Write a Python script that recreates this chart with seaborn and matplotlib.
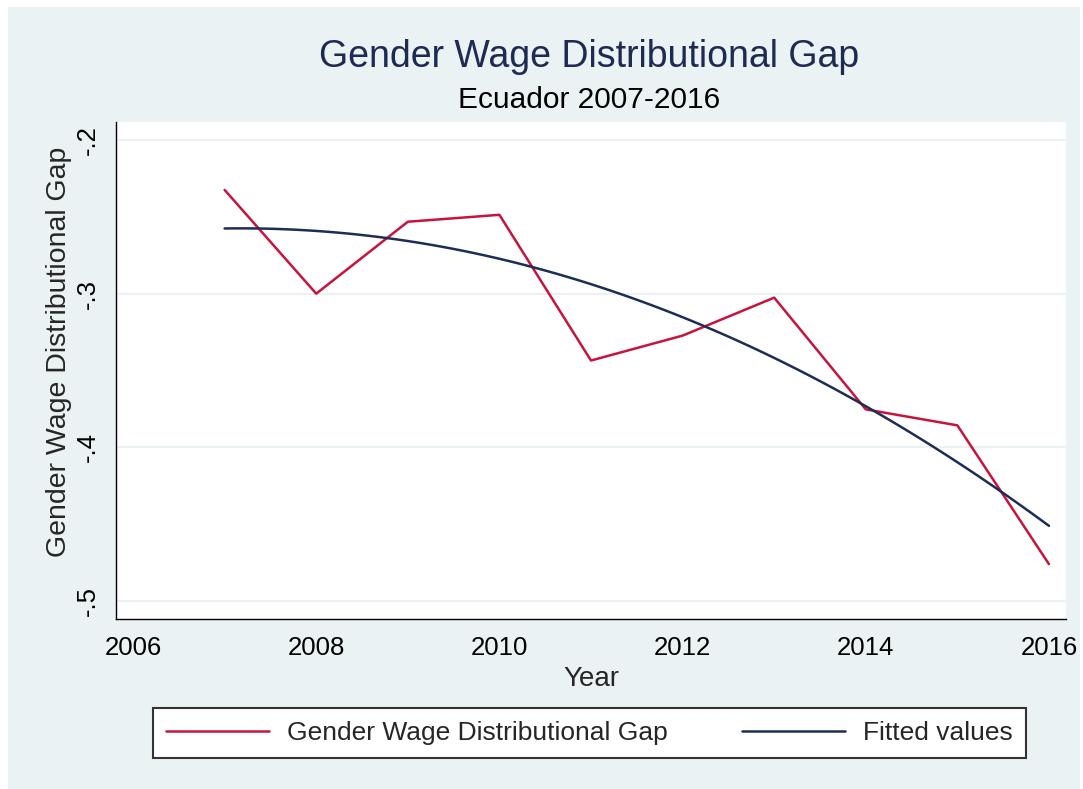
from matplotlib import pyplot as plt
from matplotlib.patches import Rectangle
import numpy as np
import pandas
import seaborn as sns

# Data
years = [2007, 2008, 2009, 2010, 2011, 2012, 2013, 2014, 2015, 2016]
wage_gap = [-0.2325, -0.3000, -0.2532, -0.2487, -0.3435, -0.3273, -0.3026, -0.3753, -0.3857, -0.4760]

y_ticks = [-0.2, -0.3, -0.4, -0.5]
y_tick_labels = ["-.2", "-.3", "-.4", "-.5"]
x_ticks = [2006, 2008, 2010, 2012, 2014, 2016]

dataframe = pandas.DataFrame({"Year": years, "Gap": wage_gap})

bg_color = "#EAF2F3"
red_color = "#C8143C"
navy_color = "#1E2D55"

sns.set_style("white")
plt.rcParams['font.family'] = ['Liberation Sans', 'DejaVu Sans']

W, H = 1083, 789
fig = plt.figure(figsize=(W / 100, H / 100), dpi=100, facecolor="white")
# Stata-like graph region
fig.patches.append(Rectangle((8 / W, 0), (1080 - 8) / W, (H - 7) / H,
                             transform=fig.transFigure, facecolor=bg_color,
                             edgecolor="none", zorder=-10))

ax1 = fig.add_axes([116 / W, 1 - 619 / H, (1066 - 116) / W, (619 - 122) / H])
ax1.set_facecolor("white")

sns.lineplot(data=dataframe, x="Year", y="Gap", ax=ax1, color=red_color,
             linewidth=1.8, label="Gender Wage Distributional Gap")
# quadratic fit, as Stata's qfit
sns.regplot(data=dataframe, x="Year", y="Gap", ax=ax1, order=2, ci=None,
            scatter=False, line_kws={"color": navy_color, "linewidth": 1.8},
            label="Fitted values")

ax1.set_xlim(2005.814, 2016.186)
ax1.set_ylim(-0.5117, -0.1883)
ax1.set_xticks(x_ticks)
ax1.set_xticklabels([str(x) for x in x_ticks])
ax1.set_yticks(y_ticks)
ax1.set_yticklabels(y_tick_labels, rotation=90, va="center")

# grid and spines
ax1.yaxis.grid(True, color=bg_color, linewidth=1.5)
ax1.xaxis.grid(False)
ax1.set_axisbelow(True)
for side in ["top", "right"]:
    ax1.spines[side].set_visible(False)
for side in ["left", "bottom"]:
    ax1.spines[side].set_color("black")
    ax1.spines[side].set_linewidth(1.0)

ax1.tick_params(axis="both", which="major", direction="out", length=6.5,
                width=1.0, color="black", labelsize=18.5, labelcolor="black")
ax1.tick_params(axis="y", pad=5)
ax1.tick_params(axis="x", pad=6)

ax1.set_xlabel("Year", fontsize=20)
ax1.set_ylabel("Gender Wage Distributional Gap", fontsize=20.5)
ax1.xaxis.set_label_coords(0.5, -0.095)
ax1.yaxis.set_label_coords(-0.046, 0.537)

# titles
fig.text(0.5443, 1 - 57 / H, "Gender Wage Distributional Gap", ha="center",
         va="center", fontsize=27, color="#1E2A52")
fig.text(0.5443, 1 - 100 / H, "Ecuador 2007-2016", ha="center",
         va="center", fontsize=21.5, color="black")

# legend below the plot
handles, labels = ax1.get_legend_handles_labels()
if ax1.legend_:
    ax1.legend_.remove()
leg = fig.legend(handles, labels, loc="center", ncol=2,
                 bbox_to_anchor=(589.5 / W, 1 - 733 / H), fontsize=19,
                 frameon=True, fancybox=False, handlelength=3.9,
                 handletextpad=0.7, columnspacing=2.8, borderpad=0.5,
                 borderaxespad=0)
leg.get_frame().set_edgecolor("#333333")
leg.get_frame().set_linewidth(1.5)
leg.get_frame().set_facecolor("white")
leg.get_frame().set_alpha(1)

plt.savefig("out.png", dpi=100, facecolor="white")
